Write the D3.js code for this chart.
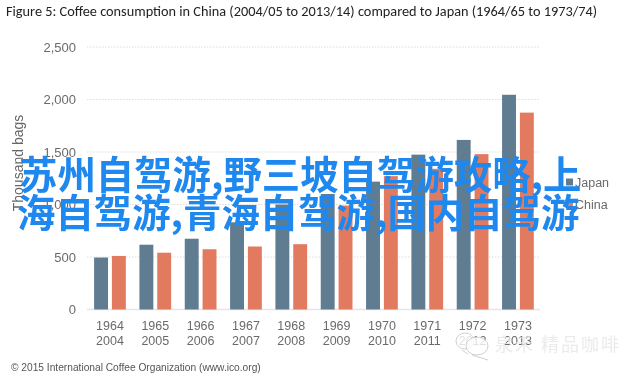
<!DOCTYPE html>
<html>
<head>
<meta charset="utf-8">
<script src="https://cdn.jsdelivr.net/npm/d3@7"></script>
<style>
	html, body { margin: 0; padding: 0; background: #fff; }
	svg { display: block; }
</style>
</head>
<body>
<div id="chart"></div>
<script>

// data
const japan_years = ['1964','1965','1966','1967','1968','1969','1970','1971','1972','1973'];
const china_years = ['2004','2005','2006','2007','2008','2009','2010','2011','2012','2013'];
const japan_values = [495,617,674,830,1000,1100,1218,1475,1615,2045];
const china_values = [510,541,574,600,622,990,1270,1340,1480,1875];
const series_names = ['Japan','China'];
const series_colors = ['#617c90','#e27a60'];
const y_ticks = [0,500,1000,1500,2000,2500];

const title_text = 'Figure 5: Coffee consumption in China (2004/05 to 2013/14) compared to Japan (1964/65 to 1973/74)';
const footer_text = '© 2015 International Coffee Organization (www.ico.org)';
const overlay_lines = ['苏州自驾游,野三坡自驾游攻略,上','海自驾游,青海自驾游,国内自驾游'];

const width = 640, height = 377;
const axis_font = '"Liberation Sans", Arial, sans-serif';

const svg = d3.select('#chart').append('svg')
	.attr('width', width)
	.attr('height', height);

// the reference is a soft jpeg, so the chart gets a very slight blur
svg.append('defs').append('filter')
		.attr('id','soft')
	.append('feGaussianBlur')
		.attr('stdDeviation',0.35);

const chart = svg.append('g').attr('filter','url(#soft)');

// scales
const y_scale = d3.scaleLinear()
	.domain([0,2500])
	.range([309.5,47]);

const x_scale = d3.scaleBand()
	.domain(japan_years)
	.range([87.3,540.6])
	.paddingInner(0.3)
	.paddingOuter(0.15);

const x_inner = d3.scaleBand()
	.domain(series_names)
	.range([0,x_scale.bandwidth()])
	.paddingInner(0.22);

// gridlines and y axis labels
const y_axis = chart.append('g')
	.attr('transform','translate(87,0)')
	.call(d3.axisLeft(y_scale).tickValues(y_ticks).tickSize(0).tickPadding(11).tickFormat(d3.format(',')));

y_axis.select('.domain').remove();
y_axis.selectAll('text')
	.style('font-family',axis_font)
	.style('font-size','13px')
	.attr('fill','#6a6a6a');

chart.append('g').selectAll('line')
	.data(y_ticks)
	.enter()
	.append('line')
		.attr('x1',87)
		.attr('x2',540)
		.attr('y1',d => y_scale(d))
		.attr('y2',d => y_scale(d))
		.attr('stroke',d => d === 0 ? '#e6e6e6' : '#dcdcdc')
		.attr('stroke-width',d => d === 0 ? 1.5 : 1)
		.attr('stroke-dasharray',d => d === 0 ? null : '1.5,1.5');

// bars
const groups = chart.append('g').selectAll('g')
	.data(japan_years)
	.enter()
	.append('g')
		.attr('transform',d => 'translate(' + x_scale(d) + ',0)');

groups.append('rect')
	.attr('x',x_inner('Japan'))
	.attr('width',x_inner.bandwidth())
	.attr('y',(d,i) => y_scale(japan_values[i]))
	.attr('height',(d,i) => y_scale(0) - y_scale(japan_values[i]))
	.attr('fill',series_colors[0]);

groups.append('rect')
	.attr('x',x_inner('China'))
	.attr('width',x_inner.bandwidth())
	.attr('y',(d,i) => y_scale(china_values[i]))
	.attr('height',(d,i) => y_scale(0) - y_scale(china_values[i]))
	.attr('fill',series_colors[1]);

// two line x labels
groups.append('text')
	.attr('x',x_scale.bandwidth()/2)
	.attr('y',330)
	.attr('text-anchor','middle')
	.style('font-family',axis_font)
	.style('font-size','12.5px')
	.attr('fill','#6a6a6a')
	.text(d => d);

groups.append('text')
	.attr('x',x_scale.bandwidth()/2)
	.attr('y',344.5)
	.attr('text-anchor','middle')
	.style('font-family',axis_font)
	.style('font-size','12.5px')
	.attr('fill','#6a6a6a')
	.text((d,i) => china_years[i]);

// y axis title
chart.append('text')
	.attr('transform','translate(23,163) rotate(-90)')
	.attr('text-anchor','middle')
	.style('font-family',axis_font)
	.style('font-size','14px')
	.attr('fill','#666666')
	.text('Thousand bags');

// legend
const legend = chart.append('g').selectAll('g')
	.data(series_names)
	.enter()
	.append('g')
		.attr('transform',(d,i) => 'translate(566,' + (182 + i*22) + ')');

legend.append('rect')
	.attr('x',0)
	.attr('y',-3.5)
	.attr('width',7)
	.attr('height',7)
	.attr('fill',(d,i) => series_colors[i]);

legend.append('text')
	.attr('x',9)
	.attr('y',5)
	.style('font-family',axis_font)
	.style('font-size','12.5px')
	.attr('fill','#6a6a6a')
	.text(d => d);

// title and footer
chart.append('text')
	.attr('x',6)
	.attr('y',16)
	.style('font-family','Carlito, Lato, sans-serif')
	.style('font-size','14.3px')
	.attr('fill','#222222')
	.text(title_text);

chart.append('text')
	.attr('x',11)
	.attr('y',371)
	.style('font-family',axis_font)
	.style('font-size','10.2px')
	.attr('fill','#555555')
	.text(footer_text);

// wechat watermark
const mark = chart.append('g').attr('fill','none').attr('stroke','#c4c4c4').attr('stroke-width',0.8);
mark.append('ellipse').attr('cx',465).attr('cy',341).attr('rx',9).attr('ry',8).attr('fill','#ffffff').attr('fill-opacity',0.8);
mark.append('ellipse').attr('cx',477).attr('cy',346).attr('rx',11).attr('ry',9).attr('fill','#ffffff').attr('fill-opacity',0.8);
mark.append('path').attr('d','M462,350 L468,354 M472,355 L488,360');

chart.append('text')
	.attr('x',495)
	.attr('y',351)
	.style('font-family','"Noto Sans CJK SC", sans-serif')
	.style('font-size','18px')
	.style('letter-spacing','2px')
	.attr('fill','#e6e6e6')
	.attr('fill-opacity',0.8)
	.text('泉禾 精品咖啡');

// big blue text across the chart
svg.append('g').selectAll('text')
	.data(overlay_lines)
	.enter()
	.append('text')
		.attr('x',(d,i) => i === 0 ? 19 : 17)
		.attr('y',(d,i) => 189 + i*38)
		.style('font-family','"Noto Sans CJK SC", sans-serif')
		.style('font-size','38.4px')
		.style('font-weight',700)
		.attr('fill','#1e88ee')
		.text(d => d);

</script>
</body>
</html>
